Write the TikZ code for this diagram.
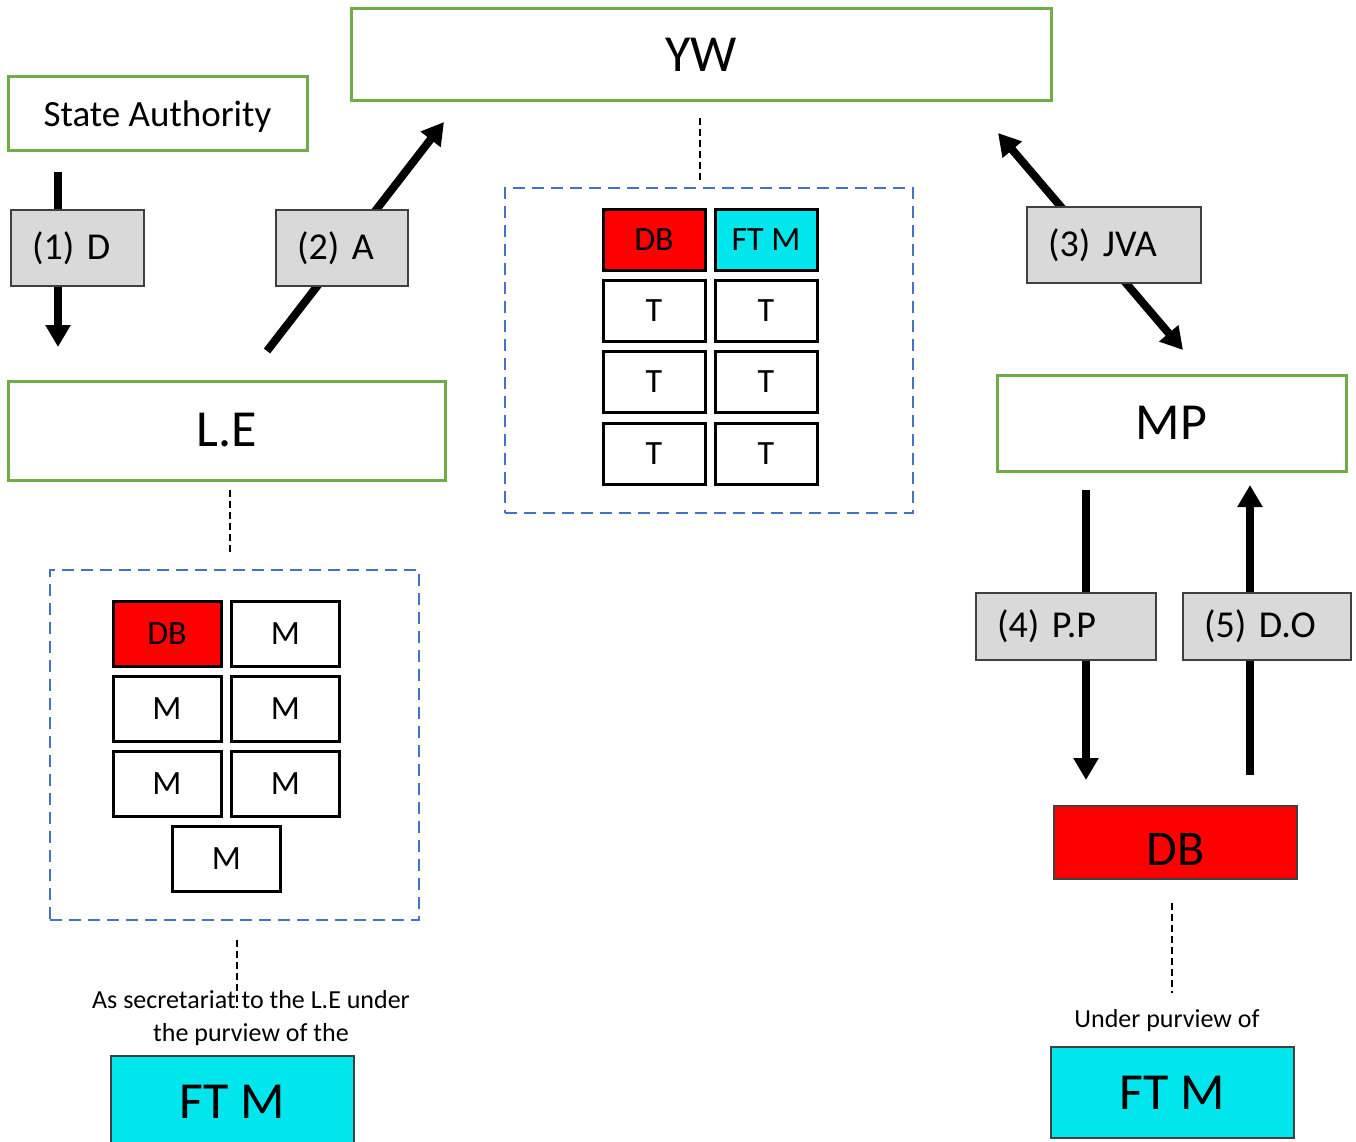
\documentclass[tikz,border=0pt]{standalone}
\usepackage{fontspec}
\setmainfont{Carlito}
\usetikzlibrary{arrows.meta}
\definecolor{grn}{HTML}{70AD47}
\definecolor{blu}{HTML}{4472C4}
\definecolor{gry}{HTML}{D9D9D9}
\definecolor{gryb}{HTML}{404040}
\definecolor{redb}{HTML}{FF0000}
\definecolor{cyb}{HTML}{00E6EC}
\tikzset{
  greenbox/.style={draw=grn, line width=3pt, fill=white, inner sep=0pt, anchor=center},
  bigtxt/.style={font=\fontsize{52}{60}\selectfont},
  labelbox/.style={draw=gryb, line width=1.3pt, fill=gry, inner ysep=0pt, inner xsep=21pt, align=left, anchor=center, font=\fontsize{38}{44}\selectfont},
  cell/.style={draw=black, line width=3pt, fill=white, inner sep=0pt, anchor=center, font=\fontsize{34}{40}\selectfont},
  bluebox/.style={draw=blu, line width=2.8pt, dash pattern=on 12pt off 7pt, inner sep=0pt, anchor=center},
  dotline/.style={draw=black, line width=1.6pt, dash pattern=on 7pt off 4pt},
  fatarrow/.style={line width=8pt, -{Triangle[length=22pt,width=24pt]}},
  fatboth/.style={line width=8pt, {Triangle[length=22pt,width=24pt]}-{Triangle[length=22pt,width=24pt]}},
  smalltxt/.style={font=\fontsize{26}{33}\selectfont, align=center, inner sep=0pt},
}
\begin{document}
\begin{tikzpicture}[x=1pt,y=-1pt]
\useasboundingbox (0,0) rectangle (1356,1142);
\fill[white] (0,0) rectangle (1356,1142);

% arrow coordinates
\coordinate (a1s) at (58,172);  \coordinate (a1e) at (58,347);
\coordinate (a2s) at (267,351); \coordinate (a2e) at (444,122);
\coordinate (a3s) at (998,133); \coordinate (a3e) at (1183,350);
\coordinate (a4s) at (1086,490); \coordinate (a4e) at (1086,780);
\coordinate (a5s) at (1250,775); \coordinate (a5e) at (1250,485);

\draw[fatarrow] (a1s) -- (a1e);
\draw[fatarrow] (a2s) -- (a2e);
\draw[fatboth] (a3s) -- (a3e);
\draw[fatarrow] (a4s) -- (a4e);
\draw[fatarrow] (a5s) -- (a5e);

% main green boxes
\node[greenbox, minimum width=700pt, minimum height=92pt, bigtxt] (yw) at (701,55) {YW};
\node[greenbox, minimum width=299pt, minimum height=74pt, text depth=0pt, font=\fontsize{37}{44}\selectfont] (sa) at (157.5,114) {State Authority};
\node[greenbox, minimum width=437pt, minimum height=99pt, bigtxt] (le) at (226.5,430.5) {L.E};
\node[greenbox, minimum width=349pt, minimum height=96pt, bigtxt] (mp) at (1171.5,423) {MP};

% label boxes
\node[labelbox, text width=91pt, minimum height=76pt] (g1) at (77.5,248) {(1) D};
\node[labelbox, text width=90pt, minimum height=76pt] (g2) at (342,248) {(2) A};
\node[labelbox, text width=132pt, minimum height=76pt] (g3) at (1114,245) {(3) JVA};
\node[labelbox, text width=138pt, minimum height=67pt] (g4) at (1066,626.5) {(4) P.P};
\node[labelbox, text width=126pt, minimum height=67pt] (g5) at (1267,626.5) {(5) D.O};

% centre dashed box and grid
\node[bluebox, minimum width=408pt, minimum height=325pt] (cbox) at (709,350.5) {};
\node[cell, fill=redb, minimum width=102pt, minimum height=61pt] (cdb) at (654,239.5) {DB};
\node[cell, fill=cyb, minimum width=102pt, minimum height=61pt] (cft) at (766,239.5) {FT M};
\node[cell, minimum width=102pt, minimum height=61pt] (ct1) at (654,311) {T};
\node[cell, minimum width=102pt, minimum height=61pt] (ct2) at (766,311) {T};
\node[cell, minimum width=102pt, minimum height=61pt] (ct3) at (654,382) {T};
\node[cell, minimum width=102pt, minimum height=61pt] (ct4) at (766,382) {T};
\node[cell, minimum width=102pt, minimum height=61pt] (ct5) at (654,454) {T};
\node[cell, minimum width=102pt, minimum height=61pt] (ct6) at (766,454) {T};

% left dashed box and grid
\node[bluebox, minimum width=369pt, minimum height=350pt] (lbox) at (234.5,745) {};
\node[cell, fill=redb, minimum width=108pt, minimum height=65pt] (ldb) at (167,633.5) {DB};
\node[cell, minimum width=108pt, minimum height=65pt] (lm1) at (285.5,633.5) {M};
\node[cell, minimum width=108pt, minimum height=65pt] (lm2) at (167,708.5) {M};
\node[cell, minimum width=108pt, minimum height=65pt] (lm3) at (285.5,708.5) {M};
\node[cell, minimum width=108pt, minimum height=65pt] (lm4) at (167,783.5) {M};
\node[cell, minimum width=108pt, minimum height=65pt] (lm5) at (285.5,783.5) {M};
\node[cell, minimum width=108pt, minimum height=65pt] (lm6) at (226.5,858.5) {M};

% right DB and FT M
\node[draw=gryb, line width=1.3pt, fill=redb, minimum width=243pt, minimum height=73pt, inner sep=0pt] (dbr) at (1175.5,842.5) {};
\node[inner sep=0pt, font=\fontsize{50}{58}\selectfont] (dbrt) at ([yshift=-7pt]dbr.center) {DB};
\node[smalltxt] (under) at (1167,1021) {Under purview of};
\node[draw=gryb, line width=1.3pt, fill=cyb, minimum width=243pt, minimum height=91pt, inner sep=0pt, bigtxt] (ftr) at (1172.5,1092.5) {FT M};

% left bottom text and FT M
\node[smalltxt] (sec) at (251,1018) {As secretariat to the L.E under\\the purview of the};
\node[draw=gryb, line width=1.3pt, fill=cyb, minimum width=243pt, minimum height=92pt, inner sep=0pt, bigtxt] (ftl) at (232.5,1102) {FT M};

% dashed connectors
\coordinate (d1a) at (700,118); \coordinate (d1b) at (700,180);
\coordinate (d2a) at (230,490); \coordinate (d2b) at (230,552);
\coordinate (d3a) at (237,940); \coordinate (d3b) at (237,1008);
\coordinate (d4a) at (1172,903); \coordinate (d4b) at (1172,993);
\draw[dotline] (d1a) -- (d1b);
\draw[dotline] (d2a) -- (d2b);
\draw[dotline] (d3a) -- (d3b);
\draw[dotline] (d4a) -- (d4b);
\end{tikzpicture}
\end{document}
